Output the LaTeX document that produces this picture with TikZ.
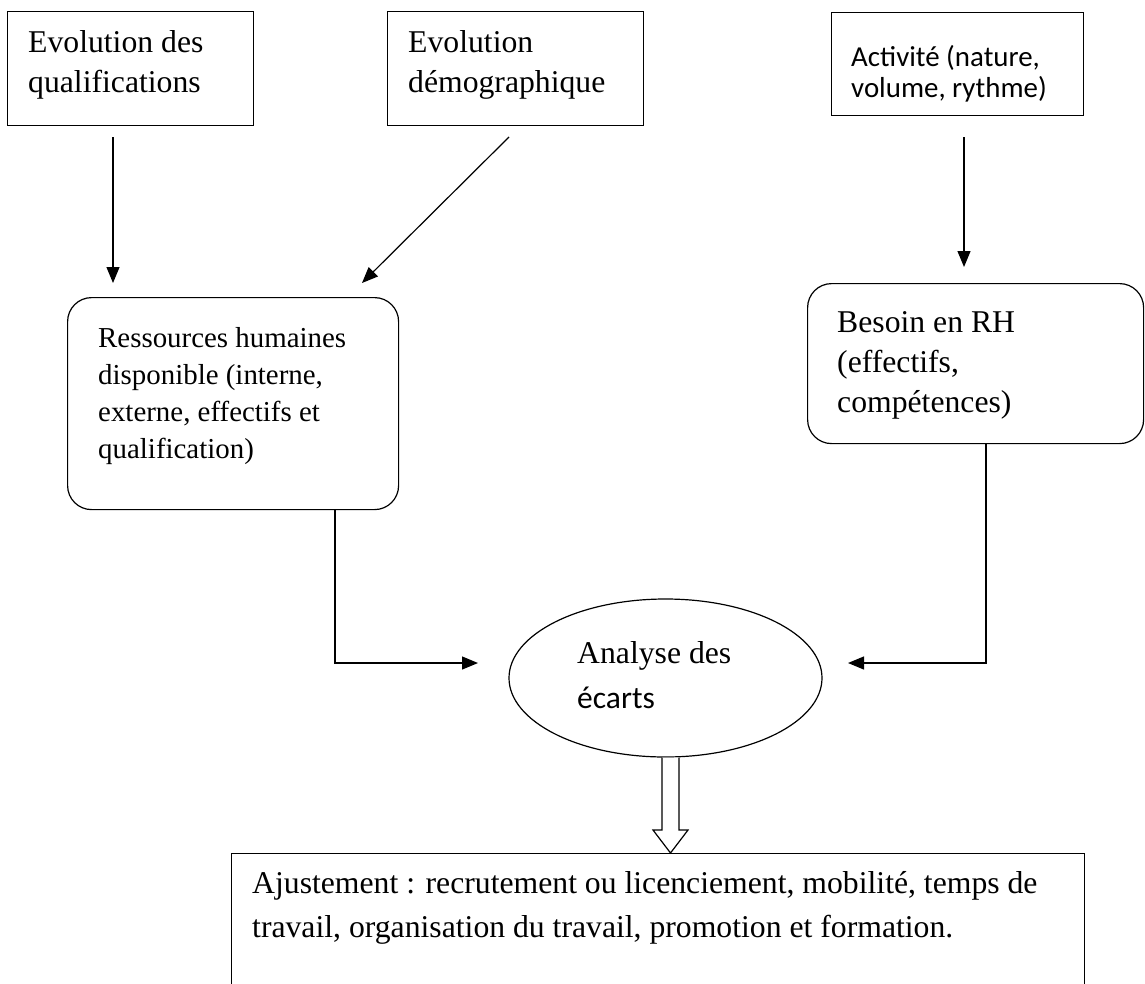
\documentclass[tikz,border=0pt]{standalone}
\usepackage{fontspec}
\setmainfont{Liberation Serif}
\newfontfamily\calibrifont{Carlito}
\usetikzlibrary{arrows.meta,shapes.geometric}

\tikzset{
  frame/.style={draw, line width=1.2pt, inner sep=0pt, anchor=north west},
  rframe/.style={frame, rounded corners=24pt},
  % text blocks are placed by the baseline of their last line
  txt/.style={anchor=base west, align=left, inner sep=0pt},
  serifbig/.style={txt, font=\fontsize{31.7}{40}\selectfont},
  serifsmall/.style={txt, font=\fontsize{28.9}{37}\selectfont},
  sanssmall/.style={txt, font=\calibrifont\fontsize{28.9}{31}\selectfont},
  link/.style={line width=1.2pt, -{Triangle[length=16pt,width=13pt]}},
  wire/.style={line width=1.2pt},
}

\begin{document}
\begin{tikzpicture}[x=1pt, y=-1pt]
  \useasboundingbox (0,0) rectangle (1145,983);
  \clip (0,0) rectangle (1145,983);

  % top row: driving factors
  \node[frame, minimum width=246pt, minimum height=114pt] (qual) at (7,11) {};
  \node[serifbig] (qual-t) at (28,92) {Evolution des\\qualifications};

  \node[frame, minimum width=256pt, minimum height=114pt] (demo) at (387,11) {};
  \node[serifbig] (demo-t) at (408,92) {Evolution\\démographique};

  \node[frame, minimum width=252pt, minimum height=103pt] (act) at (831,12) {};
  \node[sanssmall] (act-t) at (851,97) {Activité (nature,\\volume, rythme)};

  % middle row: available resources and needs
  \node[rframe, minimum width=331pt, minimum height=212pt] (dispo) at (67,297) {};
  \node[serifsmall] (dispo-t) at (98,458)
    {Ressources humaines\\disponible (interne,\\externe, effectifs et\\qualification)};

  \node[rframe, minimum width=336pt, minimum height=160pt] (besoin) at (807,283) {};
  \node[serifbig] (besoin-t) at (837,412) {Besoin en RH\\(effectifs,\\compétences)};

  % gap analysis
  \node[draw, ellipse, line width=1.2pt, inner sep=0pt,
        minimum width=313pt, minimum height=158pt] (ecarts) at (665.5,678) {};
  \node[serifbig] (ecarts-a) at (577,663) {Analyse des};
  \node[txt, font=\calibrifont\fontsize{31.5}{40}\selectfont] (ecarts-b) at (577,708) {écarts};

  % adjustment measures
  \node[frame, minimum width=853pt, minimum height=170pt] (ajust) at (231,853) {};
  \node[serifbig, font=\fontsize{31.7}{44}\selectfont] (ajust-t) at (252,937)
    {Ajustement : recrutement ou licenciement, mobilité, temps de\\
     travail, organisation du travail, promotion et formation.};

  % arrow end points
  \coordinate (qual-o) at (113,137);
  \coordinate (qual-i) at (113,283);
  \coordinate (demo-o) at (509,137);
  \coordinate (demo-i) at (362,283);
  \coordinate (act-o)  at (964,137);
  \coordinate (act-i)  at (964,267);
  \coordinate (dispo-o) at (335,509);
  \coordinate (dispo-k) at (335,663);
  \coordinate (ecarts-l) at (478,663);
  \coordinate (besoin-o) at (986,443);
  \coordinate (besoin-k) at (986,663);
  \coordinate (ecarts-r) at (848,663);

  \draw[link] (qual-o) -- (qual-i);
  \draw[link] (demo-o) -- (demo-i);
  \draw[link] (act-o) -- (act-i);
  \draw[link] (dispo-o) -- (dispo-k) -- (ecarts-l);
  \draw[link] (besoin-o) -- (besoin-k) -- (ecarts-r);

  % hollow block arrow from the analysis to the adjustments
  \draw[wire, line join=miter, fill=white]
    (ecarts.south -| 662,0) -- (662,830) -- (653,830) -- (ajust.north -| 670.5,0)
    -- (688,830) -- (679,830) -- (ecarts.south -| 679,0);
\end{tikzpicture}
\end{document}
